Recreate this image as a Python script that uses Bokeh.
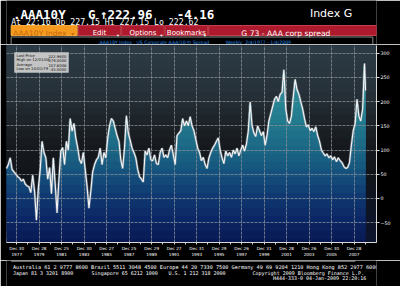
import numpy as np
import pandas as pd
from bokeh.plotting import figure
from bokeh.layouts import column
from bokeh.models import Range1d, FixedTicker, BoxAnnotation, Label
from bokeh.core.properties import value
from bokeh.embed import file_html
from bokeh.resources import INLINE

# ---------------- data (AAA corporate yield minus 10-yr Treasury, bp, bimonthly reads) -------------
spread_1977_1984 = [
    62, 70, 84, 60, 55, 50,
    45, 42, 36, 40, 30, 26,
    24, 12, 48, 15, -45, 20,
    60, 118, 95, 84, 40, 64,
    10, 84, 30, -30, 40, 98,
    105, 70, 118, 100, 165, 139,
    155, 125, 105, 80, 72, 95,
    60, 25, -20, 15, 55, 70,
]
spread_1985_1992 = [
    80, 85, 104, 70, 95, 84,
    125, 150, 165, 160, 145, 130,
    118, 80, 62, 105, 171, 135,
    120, 104, 95, 84, 60, 45,
    40, 34, 98, 90, 104, 80,
    78, 90, 72, 70, 95, 104,
    85, 90, 84, 100, 110, 90,
    70, 130, 135, 140, 165, 150,
]
spread_1993_2000 = [
    160, 150, 169, 150, 140, 122,
    104, 95, 78, 85, 70, 62,
    84, 95, 104, 110, 118, 125,
    100, 84, 72, 98, 88, 95,
    85, 100, 92, 104, 88, 100,
    110, 98, 112, 139, 199, 151,
    135, 128, 150, 140, 130, 138,
    110, 130, 160, 175, 190, 205,
]
spread_2001_2009 = [
    211, 200, 215, 219, 266, 185,
    160, 155, 170, 210, 246, 225,
    215, 200, 185, 165, 148, 152,
    140, 145, 138, 148, 130, 118,
    100, 94, 88, 92, 84, 88,
    80, 86, 76, 84, 78, 74,
    66, 62, 64, 74, 110, 140,
    155, 205, 170, 160, 185, 279,
    222.96,
]
spread = spread_1977_1984 + spread_1985_1992 + spread_1993_2000 + spread_2001_2009
dates = list(pd.date_range("1977-02-01", periods=192, freq="2MS")) + [pd.Timestamp("2009-01-02")]

tick_dates = ["1977-12-30", "1979-12-28", "1981-12-25", "1983-12-30", "1985-12-27", "1987-12-25",
              "1989-12-29", "1991-12-27", "1993-12-31", "1995-12-29", "1997-12-26", "1999-12-31",
              "2001-12-28", "2003-12-26", "2005-12-30", "2007-12-28"]
tick_labels = ["Dec 30\n1977", "Dec 28\n1979", "Dec 25\n1981", "Dec 30\n1983", "Dec 27\n1985",
               "Dec 25\n1987", "Dec 29\n1989", "Dec 27\n1991", "Dec 31\n1993", "Dec 29\n1995",
               "Dec 26\n1997", "Dec 31\n1999", "Dec 28\n2001", "Dec 26\n2003", "Dec 30\n2005",
               "Dec 28\n2007"]
minor_dates = ["1978-12-29", "1980-12-26", "1982-12-31", "1984-12-28", "1986-12-26", "1988-12-30",
               "1990-12-28", "1992-12-25", "1994-12-30", "1996-12-27", "1998-12-25", "2000-12-29",
               "2002-12-27", "2004-12-31", "2006-12-29", "2008-12-26"]
y_ticks = [-50, 0, 50, 100, 150, 200, 250, 300]

title_tokens = [".AAA10Y", "G", "\u2191222.96", "-4.16"]
quote_line = "At 22:16 Op 227.15 Hi 227.15 Lo 222.62"
menu_items = ["Edit", "Options", "Bookmarks"]
footer_1 = "Australia 61 2 9777 8600 Brazil 5511 3048 4500 Europe 44 20 7330 7500 Germany 49 69 9204 1210 Hong Kong 852 2977 6000"
footer_2 = ["Japan 81 3 3201 8900", "Singapore 65 6212 1000", "U.S. 1 212 318 2000",
            "Copyright 2009 Bloomberg Finance L.P."]
footer_3 = "H444-333-0 04-Jan-2009 22:20:16"

MONO = "DejaVu Sans Mono"
SANS = "DejaVu Sans"


def to_ms(s):
    return int(pd.Timestamp(s).value // 10**6)


def hex2rgb(h):
    return np.array([int(h[i:i + 2], 16) for i in (1, 3, 5)], dtype=float)


def grad(stops, v):
    vs = [s[0] for s in stops]
    cs = [hex2rgb(s[1]) for s in stops]
    for i in range(len(vs) - 1):
        if vs[i] <= v <= vs[i + 1]:
            t = (v - vs[i]) / (vs[i + 1] - vs[i])
            c = cs[i] * (1 - t) + cs[i + 1] * t
            return "#%02x%02x%02x" % tuple(int(round(k)) for k in c)
    return stops[-1][1] if v > vs[-1] else stops[0][1]


def panel(h):
    f = figure(width=400, height=h, x_range=Range1d(0, 400), y_range=Range1d(h, 0),
               x_axis_type=None, y_axis_type=None, output_backend="svg",
               toolbar_location=None, min_border=0)
    f.outline_line_color = None
    f.background_fill_color = "black"
    f.border_fill_color = "black"
    return f


def txt(f, x, y, s, size, color="white", font=MONO, style="normal", align="left"):
    f.text(x=[x], y=[y], text=[s], text_font=value(font), text_font_size=value(size),
           text_font_style=style, text_color=color, text_align=align, text_baseline="alphabetic")


# ---------------- header ----------------
hd = panel(44)
for xs, tok in zip([7, 88, 101, 184], title_tokens):
    txt(hd, xs, 13.5, tok, "12.5px", style="bold")
txt(hd, 328, 13, "Index G", "11px", font=SANS)
txt(hd, 5, 21.5, quote_line, "8.2px")
# menu bar
hd.quad(left=[5], right=[76.5], top=[25], bottom=[35], fill_color="#f59a1e", line_color="#f7b040")
txt(hd, 7, 32.5, "AAA10Y Index", "7.6px", color="#c86a0c", font=SANS)
txt(hd, 70, 32.5, "\u25be", "6px", color="#c86a0c", font=SANS)
tab_l = [77.5, 124.5, 171.5, 218.5]
tab_r = [123.5, 170.5, 217.5, 400]
hd.quad(left=tab_l, right=tab_r, top=[25] * 4, bottom=[35] * 4,
        fill_color="#ad1a2d", line_color="#c8404f")
for cx, item in zip([100.5, 147.5, 194.5], menu_items):
    txt(hd, cx, 32.3, item, "7px", font=SANS, align="center")
for cx in [120.5, 167.5, 214.5]:
    txt(hd, cx, 35, "\u25be", "4.5px", font=SANS, align="center")
txt(hd, 302, 32.6, "G 73 - AAA corp spread", "7.6px", font=SANS, align="center")
# subtitle frame and text
hd.segment(x0=[5, 5, 396, 5], y0=[36.5, 36.5, 36.5, 44], x1=[396, 5, 396, 396], y1=[36.5, 44, 44, 44],
           line_color="#8a8a8a", line_width=1)
txt(hd, 99, 41.8, ".AAA10Y Index : US Corporate AAA/10-Yr Spread", "4.6px", color="#2b8fe0", font=SANS)
txt(hd, 237, 41.8, "Weekly", "4.6px", color="#2b8fe0", font=SANS)
txt(hd, 258, 41.8, "2/4/1977 - 1/4/2009", "4.6px", color="#2b8fe0", font=SANS)

# ---------------- chart ----------------
x = pd.DatetimeIndex(dates)
arr = np.array(spread, dtype=float)

p = figure(width=400, height=216, x_axis_type="datetime", y_axis_location="right",
           x_range=Range1d(to_ms("1977-02-01"), to_ms("2009-12-25")), y_range=Range1d(-91, 316),
           output_backend="svg", toolbar_location=None,
           min_border_left=6, min_border_right=24, min_border_top=1, min_border_bottom=13)
p.border_fill_color = "black"
p.background_fill_color = "#2d3b45"
p.outline_line_color = "#8a8a8a"

bg_stops = [(-100, "#0c1430"), (0, "#0e1420"), (60, "#121519"), (120, "#171b1f"), (170, "#1f262b"),
            (220, "#263139"), (270, "#2a3740"), (320, "#2d3b45")]
fill_stops = [(-100, "#081650"), (-50, "#0b2462"), (0, "#0f376f"), (50, "#15507c"), (100, "#1b6684"),
              (150, "#21778c"), (200, "#288594"), (320, "#3094a2")]
band_lo = list(range(-100, 320, 16))
for lo in band_lo:
    p.add_layout(BoxAnnotation(bottom=lo, fill_color=grad(bg_stops, lo + 8), fill_alpha=1,
                               line_color=None, level="image"))
for lo in band_lo:
    r = p.varea(x=x, y1=lo, y2=np.clip(arr, lo, None), fill_color=grad(fill_stops, lo + 8), fill_alpha=1)
    r.level = "underlay"

shadow = p.line(x, arr, line_color="#9aa6ae", line_width=2.4, line_alpha=0.55)
shadow.level = "annotation"
ln = p.line(x, arr, line_color="#f4f4f4", line_width=1.1)
ln.level = "annotation"

# axes
p.yaxis.ticker = FixedTicker(ticks=y_ticks)
p.yaxis.major_label_text_font_size = "4.8px"
p.yaxis.major_label_text_font = SANS
p.yaxis.major_label_text_color = "white"
p.yaxis.axis_line_color = "#d8d8d8"
p.yaxis.major_tick_line_color = "#d8d8d8"
p.yaxis.major_tick_out = 3
p.yaxis.major_tick_in = 0
p.yaxis.minor_tick_line_color = None
p.yaxis.major_label_standoff = 1

tick_ms = [to_ms(d) for d in tick_dates]
p.xaxis.ticker = FixedTicker(ticks=tick_ms, minor_ticks=[to_ms(d) for d in minor_dates])
p.xaxis.major_label_overrides = dict(zip(tick_ms, tick_labels))
p.xaxis.major_label_text_font_size = "4.2px"
p.xaxis.major_label_text_font = SANS
p.xaxis.major_label_text_color = "white"
p.xaxis.major_label_text_line_height = 1.3
p.xaxis.axis_line_color = "#d8d8d8"
p.xaxis.major_tick_line_color = "#d8d8d8"
p.xaxis.minor_tick_line_color = "#d8d8d8"
p.xaxis.major_tick_out = 2
p.xaxis.major_tick_in = 0
p.xaxis.minor_tick_out = 2
p.xaxis.minor_tick_in = 0
p.xaxis.major_label_standoff = 1

p.grid.grid_line_color = "#8d939a"
p.grid.grid_line_alpha = 0.75
p.grid.grid_line_dash = "3 1"
p.grid.grid_line_width = 1
p.grid.level = "glyph"

# stats box (computed from the series)
hi_i = int(np.argmax(arr))
lo_i = int(np.argmin(arr))
stats = [("Last Price", arr[-1]),
         ("High on %s" % dates[hi_i].strftime("%m/%d/%y"), arr[hi_i]),
         ("Average", arr.mean()),
         ("Low on %s" % dates[lo_i].strftime("%m/%d/%y"), arr[lo_i])]
p.add_layout(BoxAnnotation(left=8, right=62, top=190, bottom=170, left_units="screen",
                           right_units="screen", top_units="screen", bottom_units="screen",
                           fill_color="#c4c4c4", fill_alpha=1, line_color="#eeeeee",
                           line_width=1, level="overlay"))
for k, (name, v) in enumerate(stats):
    yy = 185 - k * 4.6
    p.add_layout(Label(x=10, y=yy, x_units="screen", y_units="screen", text=name,
                       text_font=SANS, text_font_size="3.8px", text_color="#111111", level="overlay"))
    p.add_layout(Label(x=60, y=yy, x_units="screen", y_units="screen", text="%.4f" % v,
                       text_align="right", text_font=SANS, text_font_size="3.8px",
                       text_color="#111111", level="overlay"))

# last value tag on the right axis
p.add_layout(Label(x=371, y=arr[-1], x_units="screen", y_units="data", y_offset=5,
                   text="%.4f" % arr[-1], text_font=SANS, text_font_size="4.4px",
                   text_color="black", text_baseline="middle",
                   background_fill_color="#e6e6e6", background_fill_alpha=1, level="overlay"))

# ---------------- footer ----------------
ft = panel(26)
ft.segment(x0=[5], y0=[0.5], x1=[377], y1=[0.5], line_color="#d0d0d0", line_width=1)
txt(ft, 7, 6.7, footer_1, "5.2px")
for xs, s in zip([7, 92, 175, 266], footer_2):
    txt(ft, xs, 12.4, s, "5px")
txt(ft, 288, 17.4, footer_3, "5px")

layout = column(hd, p, ft, spacing=0)
open("out.html", "w").write(file_html(layout, INLINE))
